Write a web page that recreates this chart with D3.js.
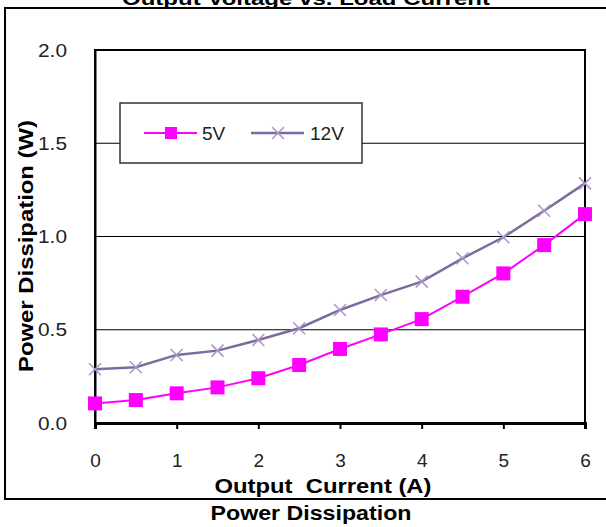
<!DOCTYPE html>
<html><head><meta charset="utf-8">
<script src="https://cdn.jsdelivr.net/npm/d3@7"></script>
<style>body{margin:0;background:#fff;}svg{display:block;}</style>
</head><body>
<script>
const currents = [0,0.5,1,1.5,2,2.5,3,3.5,4,4.5,5,5.5,6];
const v5  = [0.105,0.123,0.159,0.191,0.240,0.311,0.397,0.475,0.557,0.677,0.802,0.954,1.120];
const v12 = [0.288,0.299,0.365,0.388,0.445,0.508,0.606,0.686,0.758,0.883,0.996,1.138,1.285];
const xTicks = [0,1,2,3,4,5,6];
const yTicks = [0,0.5,1.0,1.5,2.0];
const seriesNames = ["5V","12V"];

const W=606,H=527;
const svg=d3.select("body").append("svg").attr("width",W).attr("height",H);
const font="Arial, 'Liberation Sans', sans-serif";
const L=95,R=585,T=50,B=423;
const x=d3.scaleLinear().domain([0,6]).range([L,R]);
const y=d3.scaleLinear().domain([0,2]).range([B,T]);

// outer border
svg.append("rect").attr("x",5).attr("y",8).attr("width",620).attr("height",491)
  .attr("fill","none").attr("stroke","#000").attr("stroke-width",2);

// title (cut off at top, as in the reference)
svg.append("text").attr("x",306).attr("y",5).attr("text-anchor","middle")
  .attr("font-family",font).attr("font-weight","bold").attr("font-size",19)
  .attr("textLength",368).attr("lengthAdjust","spacingAndGlyphs")
  .text("Output Voltage vs. Load Current");

// gridlines
svg.append("g").selectAll("line").data(yTicks.filter(d=>d>0&&d<2)).join("line")
  .attr("x1",L).attr("x2",R).attr("y1",d=>y(d)).attr("y2",d=>y(d))
  .attr("stroke","#000").attr("stroke-width",1);

// plot frame
svg.append("rect").attr("x",L).attr("y",T).attr("width",R-L).attr("height",B-T)
  .attr("fill","none").attr("stroke","#000").attr("stroke-width",2);

// x axis
const xAxis=svg.append("g").attr("transform",`translate(0,${B})`)
  .call(d3.axisBottom(x).tickValues(xTicks).tickFormat(d3.format("d")).tickSize(6).tickPadding(25));
xAxis.select(".domain").attr("stroke","#000").attr("stroke-width",3);
xAxis.selectAll(".tick line").attr("stroke","#000").attr("stroke-width",2);
xAxis.selectAll("text").attr("font-family",font).attr("font-size",19).attr("fill","#222");

// y axis
const yAxis=svg.append("g").attr("transform",`translate(${L},0)`)
  .call(d3.axisLeft(y).tickValues(yTicks).tickFormat(d3.format(".1f")).tickSize(0).tickPadding(28));
yAxis.select(".domain").attr("stroke","#000").attr("stroke-width",2);
yAxis.selectAll("text").attr("font-family",font).attr("font-size",19).attr("fill","#222")
  .attr("textLength",29).attr("lengthAdjust","spacingAndGlyphs");

// lines
const line=d3.line().x((d,i)=>x(currents[i])).y(d=>y(d));
const c5="#ff00ff", c12="#7e6a9e", c12m="#a898c8";
svg.append("path").datum(v12).attr("d",line).attr("fill","none").attr("stroke",c12).attr("stroke-width",2.5);
svg.append("path").datum(v5).attr("d",line).attr("fill","none").attr("stroke",c5).attr("stroke-width",2);

const xs=6;
function xMark(g,cx,cy){
  g.append("path").attr("d",`M${cx-xs},${cy-xs}L${cx+xs},${cy+xs}M${cx-xs},${cy+xs}L${cx+xs},${cy-xs}`)
   .attr("stroke",c12m).attr("stroke-width",1.5).attr("fill","none");
}
const g12=svg.append("g");
v12.forEach((v,i)=>xMark(g12,x(currents[i]),y(v)));
svg.append("g").selectAll("rect").data(v5).join("rect")
  .attr("x",(d,i)=>x(currents[i])-7).attr("y",d=>y(d)-7).attr("width",14).attr("height",14)
  .attr("fill",c5);

// legend
const lg=svg.append("g");
lg.append("rect").attr("x",120).attr("y",103).attr("width",242).attr("height",60)
  .attr("fill","#fff").attr("stroke","#333").attr("stroke-width",1.5);
lg.append("line").attr("x1",144).attr("x2",197).attr("y1",133).attr("y2",133).attr("stroke",c5).attr("stroke-width",2);
lg.append("rect").attr("x",165).attr("y",127).attr("width",12).attr("height",12).attr("fill",c5);
lg.append("text").attr("x",202).attr("y",140).attr("font-family",font).attr("font-size",19).attr("fill","#222").text(seriesNames[0]);
lg.append("line").attr("x1",251).attr("x2",304).attr("y1",133).attr("y2",133).attr("stroke",c12).attr("stroke-width",2.5);
xMark(lg,278,133);
lg.append("text").attr("x",310).attr("y",140).attr("font-family",font).attr("font-size",19).attr("fill","#222").text(seriesNames[1]);

// axis titles
svg.append("text").attr("x",323).attr("y",493).attr("text-anchor","middle")
  .attr("font-family",font).attr("font-weight","bold").attr("font-size",20)
  .attr("textLength",217).attr("lengthAdjust","spacingAndGlyphs")
  .style("white-space","pre").text("Output  Current (A)");
svg.append("text").attr("x",311).attr("y",520).attr("text-anchor","middle")
  .attr("font-family",font).attr("font-weight","bold").attr("font-size",20)
  .attr("textLength",201).attr("lengthAdjust","spacingAndGlyphs")
  .text("Power Dissipation");
svg.append("text").attr("transform","translate(33,246) rotate(-90)").attr("text-anchor","middle")
  .attr("font-family",font).attr("font-weight","bold").attr("font-size",20)
  .attr("textLength",252).attr("lengthAdjust","spacingAndGlyphs")
  .text("Power Dissipation (W)");
</script>
</body></html>
